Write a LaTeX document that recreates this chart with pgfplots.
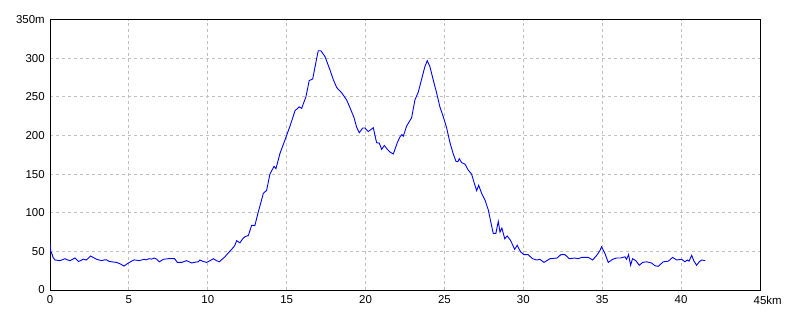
\documentclass[border=0pt]{standalone}
\usepackage{fontspec}
\setmainfont{Liberation Sans}
\usepackage{pgfplots}
\pgfplotsset{compat=1.18}
\begin{document}
\begin{tikzpicture}
\begin{axis}[
  name=ax,
  scale only axis,
  width=710bp, height=270.5bp,
  xmin=0, xmax=45, ymin=0, ymax=350,
  xtick={0,5,...,45}, ytick={0,50,...,350},
  xticklabels={0,5,10,15,20,25,30,35,40,45\rlap{km}},
  yticklabels={0,50,100,150,200,250,300,350m},
  major tick length=0pt,
  tick label style={font=\fontsize{11.5}{13}\selectfont},
  xticklabel style={yshift=-2.2bp},
  yticklabel style={xshift=-1.8bp},
  grid=major,
  major grid style={draw={rgb,255:red,192;green,192;blue,192}, dash pattern=on 3bp off 3bp, line width=0.8bp},
  axis line style={black, line width=1bp},
  clip=true,
]
\addplot[draw={rgb,255:red,0;green,0;blue,255}, line width=0.9bp, mark=none] coordinates {
(0,60)(0.05,50)(0.1,48)(0.2,42)(0.32,38.8)(0.63,38)(0.95,40.5)(1.1,39)(1.27,38)(1.45,40)(1.58,41.4)(1.8,37)(1.95,38)(2.1,40)(2.3,38.8)(2.58,44)(2.75,42)(2.96,39.7)(3.27,38)(3.45,39)(3.59,39)(3.75,37)(3.9,36.5)(4.22,35.7)(4.43,34)(4.69,31)(4.9,34)(5.1,36.5)(5.33,39)(5.65,38)(5.96,39.7)(6.1,39)(6.28,40.5)(6.45,40)(6.6,41.4)(6.75,40)(6.93,36.5)(7.18,39.7)(7.5,40.5)(7.9,40.5)(8.07,35.7)(8.35,35.7)(8.66,38)(8.98,34.9)(9.2,36)(9.4,36.5)(9.5,38.8)(9.7,37)(9.93,35.7)(10.15,38)(10.35,40.5)(10.55,38)(10.73,36.5)(11.09,43)(11.3,48)(11.51,52.6)(11.7,57)(11.83,63.8)(12.04,61)(12.2,66)(12.36,69)(12.57,70.5)(12.78,83.7)(12.99,83.7)(13.2,101)(13.35,112)(13.52,125)(13.73,129)(13.94,150)(14.2,160)(14.32,157)(14.58,177)(14.89,194)(15.21,212)(15.53,232)(15.8,237)(15.95,235)(16.22,250)(16.43,271)(16.65,273)(16.8,289)(17.0,309.6)(17.17,309.6)(17.43,302)(17.74,285)(17.95,272.5)(18.17,262)(18.49,255)(18.8,246)(19.01,236)(19.27,223)(19.43,211)(19.6,203.5)(19.82,209.6)(19.96,209.6)(20.17,205)(20.49,210)(20.7,190.6)(20.87,190)(21.02,182)(21.19,187)(21.38,182)(21.55,178.5)(21.76,176)(22.01,190.6)(22.18,198)(22.3,201)(22.39,199)(22.6,212)(22.92,223)(23.13,246)(23.34,256)(23.55,272.5)(23.76,289)(23.91,296.7)(24.08,289)(24.29,271.7)(24.51,254.5)(24.71,237)(24.93,224)(25.14,209.6)(25.35,190.6)(25.56,176)(25.73,166.5)(25.85,166)(25.94,170)(26.09,164.7)(26.3,163)(26.51,155)(26.72,150)(26.87,139.7)(27.04,128.5)(27.17,135.4)(27.36,125)(27.57,116.4)(27.78,103.5)(27.93,88.8)(28.09,73.3)(28.26,73.3)(28.41,88.8)(28.52,75)(28.64,80)(28.82,66.4)(28.98,69.8)(29.2,63.8)(29.45,52.6)(29.61,57.8)(29.83,49.2)(30.04,45.7)(30.3,45.7)(30.59,40.5)(30.84,38.8)(31.05,39.7)(31.31,35.7)(31.69,40.5)(32.15,41.4)(32.37,45.7)(32.64,45.7)(32.91,40.5)(33.27,41.4)(33.48,40.5)(33.7,42.2)(34.12,42.2)(34.39,38.8)(34.65,44.8)(34.85,50.8)(34.96,56)(35.17,47.4)(35.38,35.7)(35.66,39.7)(35.91,41.4)(36.17,41.4)(36.44,43)(36.54,39.7)(36.67,45.7)(36.8,32)(36.92,40.5)(37.13,38)(37.35,32)(37.56,35.7)(37.81,36.5)(38.13,34.9)(38.34,31.4)(38.55,30.6)(38.87,36.5)(39.19,37.3)(39.46,42.2)(39.72,38.8)(40.03,39.7)(40.24,36.5)(40.39,38.8)(40.5,37.3)(40.67,44.8)(40.8,38)(40.98,32)(41.15,36.5)(41.3,38.8)(41.53,38)
};
\end{axis}
\path (ax.south west) ++(-50bp,-30bp) coordinate (bl);
\path (ax.north east) ++(40bp,19.5bp) coordinate (tr);
\useasboundingbox (bl) rectangle (tr);
\end{tikzpicture}
\end{document}
